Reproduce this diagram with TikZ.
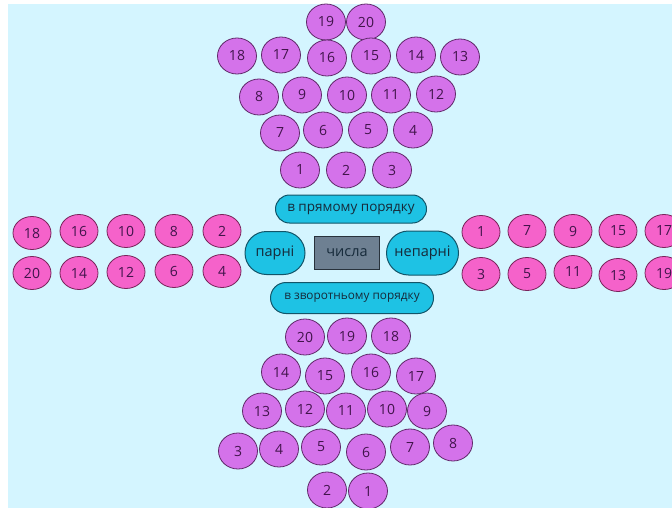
\documentclass[tikz,border=0pt]{standalone}
\usepackage{fontspec}
\setmainfont{Open Sans}
\usetikzlibrary{shapes.geometric,shapes.misc}
\definecolor{bg}{RGB}{212,245,255}
\definecolor{purp}{RGB}{212,114,234}
\definecolor{purpline}{RGB}{95,40,105}
\definecolor{pink}{RGB}{245,98,202}
\definecolor{pinkline}{RGB}{120,35,90}
\definecolor{numtxt}{RGB}{65,20,75}
\definecolor{pill}{RGB}{30,194,228}
\definecolor{pillline}{RGB}{18,85,105}
\definecolor{pilltxt}{RGB}{22,42,58}
\definecolor{boxfill}{RGB}{110,128,146}
\definecolor{boxline}{RGB}{40,50,60}
\tikzset{
  pball/.style={ellipse,draw=purpline,fill=purp,line width=0.8pt,minimum width=39pt,minimum height=36pt,inner sep=0pt,text=numtxt,font=\fontsize{14}{14}\selectfont},
  kball/.style={ellipse,draw=pinkline,fill=pink,line width=0.8pt,minimum width=38pt,minimum height=33pt,inner sep=0pt,text=numtxt,font=\fontsize{14}{14}\selectfont},
  pillbox/.style={rounded rectangle,draw=pillline,fill=pill,line width=1pt,inner sep=0pt,text=pilltxt},
  graybox/.style={rectangle,draw=boxline,fill=boxfill,line width=1.1pt,inner sep=0pt,text=pilltxt,minimum width=65pt,minimum height=33pt,font=\fontsize{14.5}{14.5}\selectfont}
}
\begin{document}
\begin{tikzpicture}[x=1pt,y=-1pt]
\useasboundingbox (0,0) rectangle (672,508);
\fill[bg] (8,4) rectangle (672,508);
% top group
\node[pball] (t19) at (326,22) {19};
\node[pball] (t20) at (366,22) {20};
\node[pball] (t18) at (237,56) {18};
\node[pball] (t17) at (281,55) {17};
\node[pball] (t16) at (327,58) {16};
\node[pball] (t15) at (371,56) {15};
\node[pball] (t14) at (416,55) {14};
\node[pball] (t13) at (460,57) {13};
\node[pball] (t8) at (259,97) {8};
\node[pball] (t9) at (302,95) {9};
\node[pball] (t10) at (347,95) {10};
\node[pball] (t11) at (391,95) {11};
\node[pball] (t12) at (436,94) {12};
\node[pball] (t7) at (280,133) {7};
\node[pball] (t6) at (323,130) {6};
\node[pball] (t5) at (368,130) {5};
\node[pball] (t4) at (413,130) {4};
\node[pball] (t1) at (300,170) {1};
\node[pball] (t2) at (346,170) {2};
\node[pball] (t3) at (392,170) {3};
% center
\node[pillbox,minimum width=151pt,minimum height=28pt,font=\fontsize{13.5}{13.5}\selectfont] (fwd) at (351,209) {в прямому порядку};
\node[pillbox,minimum width=60pt,minimum height=43pt,font=\fontsize{14.5}{14.5}\selectfont] (even) at (275,253) {парні};
\node[graybox] (num) at (347,253) {числа};
\node[pillbox,minimum width=72pt,minimum height=44pt,font=\fontsize{14.5}{14.5}\selectfont] (odd) at (422.5,253) {непарні};
\node[pillbox,minimum width=163pt,minimum height=31pt,font=\fontsize{11.8}{11.8}\selectfont] (back) at (352,298) {в зворотньому порядку};
% left pink
\node[kball] (l18) at (32,233) {18};
\node[kball] (l16) at (79,231) {16};
\node[kball] (l10) at (126,231) {10};
\node[kball] (l8) at (174,231) {8};
\node[kball] (l2) at (222,231) {2};
\node[kball] (l20) at (32,273) {20};
\node[kball] (l14) at (79,273) {14};
\node[kball] (l12) at (126,272) {12};
\node[kball] (l6) at (174,271) {6};
\node[kball] (l4) at (222,271) {4};
% right pink
\node[kball] (r1) at (481,232) {1};
\node[kball] (r7) at (527,231) {7};
\node[kball] (r9) at (573,231) {9};
\node[kball] (r15) at (618,231) {15};
\node[kball] (r17) at (664,231) {17};
\node[kball] (r3) at (481,274) {3};
\node[kball] (r5) at (527,274) {5};
\node[kball] (r11) at (573,272) {11};
\node[kball] (r13) at (618,275) {13};
\node[kball] (r19) at (664,273) {19};
% bottom group
\node[pball] (b20) at (305,337) {20};
\node[pball] (b19) at (347,336) {19};
\node[pball] (b18) at (391,336) {18};
\node[pball] (b14) at (281,372) {14};
\node[pball] (b15) at (325,376) {15};
\node[pball] (b16) at (371,372) {16};
\node[pball] (b17) at (416,376) {17};
\node[pball] (b13) at (262,411) {13};
\node[pball] (b12) at (305,409) {12};
\node[pball] (b11) at (346,411) {11};
\node[pball] (b10) at (387,409) {10};
\node[pball] (b9) at (427,411) {9};
\node[pball] (b3) at (238,451) {3};
\node[pball] (b4) at (279,449) {4};
\node[pball] (b5) at (321,447) {5};
\node[pball] (b6) at (366,452) {6};
\node[pball] (b7) at (410,447) {7};
\node[pball] (b8) at (453,443) {8};
\node[pball] (b2) at (327,490) {2};
\node[pball] (b1) at (368,491) {1};
\end{tikzpicture}
\end{document}
